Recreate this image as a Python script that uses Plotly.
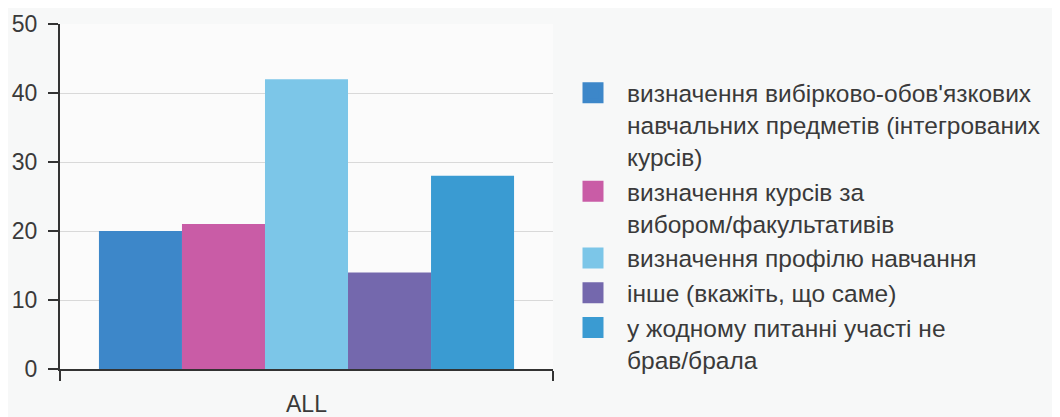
import plotly.graph_objects as go

categories = ["ALL"]
series_names = [
    "визначення вибірково-обов'язкових<br>навчальних предметів (інтегрованих<br>курсів)",
    "визначення курсів за<br>вибором/факультативів",
    "визначення профілю навчання",
    "інше (вкажіть, що саме)",
    "у жодному питанні участі не<br>брав/брала",
]
series_values = [20, 21, 42, 14, 28]
series_colors = ["#3d87c9", "#c95ca6", "#7cc6e8", "#7468ad", "#3a9bd2"]
y_ticks = [0, 10, 20, 30, 40, 50]

FONT = "Liberation Sans, Arial, sans-serif"
TXT = "#3a3a3a"

fig = go.Figure()
for name, val, col in zip(series_names, series_values, series_colors):
    fig.add_trace(go.Bar(x=categories, y=[val], name=name, marker=dict(color=col, line=dict(width=0)),
                         showlegend=False))
# legend proxies (bigger squares)
for name, col in zip(series_names, series_colors):
    fig.add_trace(go.Scatter(x=categories, y=[None], name=name, mode="markers",
                             marker=dict(symbol="square", size=16, color=col, line=dict(color=col, width=5)),
                             showlegend=True))

fig.update_layout(
    width=1052, height=409,
    margin=dict(l=52, r=0, t=16, b=45),
    paper_bgcolor="#f7f8f8",
    plot_bgcolor="#fbfbfb",
    font=dict(family=FONT, size=23, color=TXT),
    barmode="group",
    bargap=0.158,
    bargroupgap=0,
    legend=dict(
        x=0.499, xanchor="left", y=0.866, yanchor="top",
        valign="top", bgcolor="rgba(0,0,0,0)", itemwidth=58,
        font=dict(family=FONT, size=24.5, color=TXT),
        tracegroupgap=0,
    ),
    xaxis=dict(
        domain=[0, 0.493], type="category", range=[-0.5, 0.5],
        showline=True, linecolor="#333333", linewidth=2,
        ticks="outside", ticklen=10, tickwidth=1.5, tickcolor="#333333",
        tickson="boundaries", showgrid=False,
        tickfont=dict(size=23, color=TXT), ticklabelstandoff=13,
    ),
    yaxis=dict(
        range=[0, 50], tickvals=y_ticks,
        showline=True, linecolor="#333333", linewidth=2,
        ticks="outside", ticklen=10, tickwidth=1.5, tickcolor="#333333",
        showgrid=True, gridcolor="#d9d9d9", gridwidth=1,
        zeroline=False,
        tickfont=dict(size=23, color=TXT), ticklabelstandoff=6,
    ),
    xaxis2=dict(
        overlaying="x", anchor="y", domain=[0, 0.493], type="linear", range=[-0.5, 0.5],
        tickvals=[-0.5, 0.5], ticks="inside", ticklen=10, tickwidth=1.5, tickcolor="#333333",
        showticklabels=False, showgrid=False, zeroline=False, showline=False, side="bottom",
    ),
    yaxis2=dict(
        overlaying="y", anchor="x", range=[0, 50], tickvals=y_ticks,
        ticks="inside", ticklen=10, tickwidth=1.5, tickcolor="#333333",
        showticklabels=False, showgrid=False, zeroline=False, showline=False, side="left",
    ),
    yaxis3=dict(
        overlaying="y", anchor="x", range=[0, 50], side="right",
        showline=True, linecolor="#d0d0d0", linewidth=1,
        ticks="", showticklabels=False, showgrid=False, zeroline=False,
    ),
)

fig.write_html("out.html")
